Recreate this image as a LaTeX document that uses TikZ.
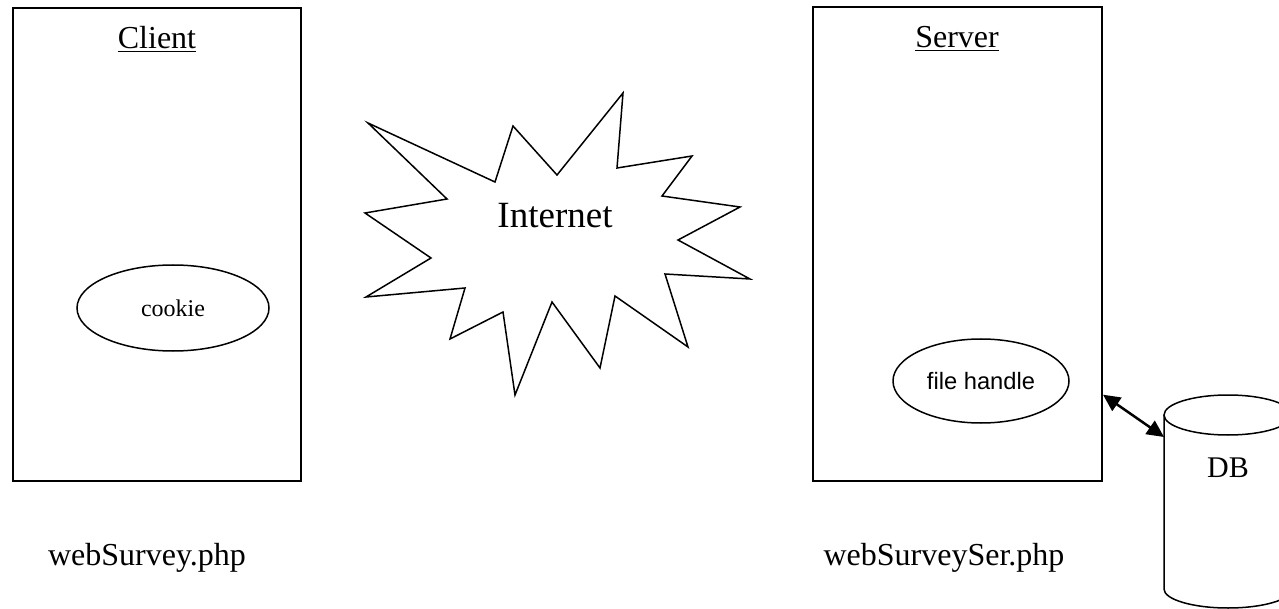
\documentclass[tikz,border=0pt]{standalone}
\usepackage{fontspec}
\setmainfont{Liberation Serif}
\newfontfamily\arialfont{Liberation Sans}
\usetikzlibrary{shapes.geometric,arrows.meta}

\tikzset{
  pagebox/.style={draw,line width=2pt,minimum width=288pt,minimum height=473pt,inner sep=0pt},
  obj/.style={draw,ellipse,line width=1.5pt,inner sep=0pt},
  lbl/.style={anchor=base,inner sep=0pt,font=\fontsize{32}{36}\selectfont},
}

\begin{document}
\begin{tikzpicture}[x=1pt,y=-1pt]
\useasboundingbox (0,0) rectangle (1279,609);
%client
\node[pagebox] (client) at (157,244.5){};
\node[lbl] (clientlbl) at (157,49){\underline{Client}};
\node[obj,minimum width=192pt,minimum height=86pt,font=\fontsize{24}{28}\selectfont] (cookie) at (173,308){cookie};
\node[lbl] (clientfile) at (147,565){webSurvey.php};
%internet
\draw[line width=1.5pt,line join=miter] (368,123) -- (495,182) -- (513,126) -- (557,175)
  -- (623,93) -- (617,168) -- (692,156) -- (662,196) -- (740,207) -- (678,240)
  -- (750,279) -- (665,274) -- (688,347) -- (615,296) -- (600,368) -- (552,302)
  -- (515,395) -- (503,312) -- (450,339) -- (465,288) -- (366,297) -- (431,258)
  -- (365,213) -- (447,199) -- cycle;
\node[lbl,font=\fontsize{37}{40}\selectfont] (internet) at (555,228){Internet};
%server
\node[pagebox,minimum width=289pt] (server) at (957.5,244){};
\node[lbl] (serverlbl) at (957,48){\underline{Server}};
\node[obj,minimum width=176pt,minimum height=84pt,font=\arialfont\fontsize{23.7}{28}\selectfont] (fh) at (981,381){file handle};
\node[lbl] (serverfile) at (944,565){webSurveySer.php};
%db
\draw[line width=1.5pt] (1228,415) ellipse (64 and 20);
\draw[line width=1.5pt] (1164,415) -- (1164,589) arc (180:360:64 and -19) -- (1292,415);
\coordinate (dbside) at (1164,437);
\node[lbl,font=\fontsize{30}{34}\selectfont] (dblbl) at (1228,477){DB};
\draw[{Triangle[length=17pt,width=16pt]}-{Triangle[length=17pt,width=16pt]},line width=2.5pt] (server.-46.5) -- (dbside);
\end{tikzpicture}
\end{document}
